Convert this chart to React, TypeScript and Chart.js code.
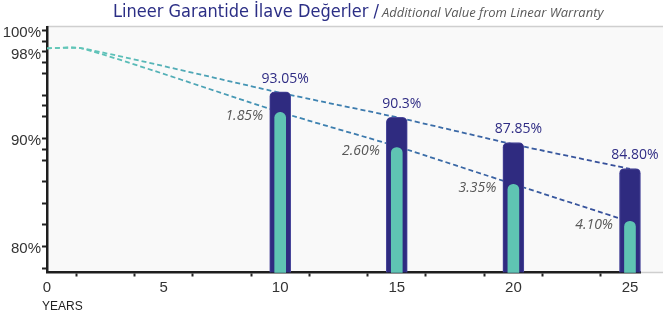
import React, { useEffect, useRef } from "react";
import { Chart, registerables } from "chart.js";

Chart.register(...registerables);

// ---- data ----
const BAR_YEARS = [10, 15, 20, 25];
const LINEAR_WARRANTY = [94.31, 91.94, 89.62, 87.22];
const STANDARD_WARRANTY = [92.4, 89.16, 85.76, 82.34];
const LINEAR_LABELS = ["93.05%", "90.3%", "87.85%", "84.80%"];
const GAIN_LABELS = ["1.85%", "2.60%", "3.35%", "4.10%"];
const LINE_YEARS = [0, 1.5, 10, 15, 20, 25];
const UPPER_LINE = [98.33, 98.33, 94.22, 91.95, 89.45, 87.18];
const LOWER_LINE = [98.33, 98.33, 92.43, 89.26, 85.77, 82.3];
const X_TICKS = [0, 2.5, 5, 7.5, 10, 12.5, 15, 17.5, 20, 22.5, 25];
const X_LABELED = [0, 5, 10, 15, 20, 25];
const Y_TICKS = [78, 80, 82, 84, 86, 88, 89, 90, 92, 93, 94, 96, 97, 98, 99, 100];
const Y_LABELED = [80, 90, 98, 100];
const TITLE_TR = "Lineer Garantide İlave Değerler /";
const TITLE_EN = "Additional Value from Linear Warranty";
const X_TITLE = "YEARS";

const Y_MIN = 77.6;
const Y_MAX = 100.3;
const X_MIN = 0;
const X_MAX = 25.43;

const NAVY = "#2f2b80";
const TEAL = "#5fc4b3";

function lineGradient(context: any) {
  const chart = context.chart;
  const area = chart.chartArea;
  if (!area) return "#4a8fb5";
  const g = chart.ctx.createLinearGradient(area.left, 0, area.right, 0);
  g.addColorStop(0, "#64c8b8");
  g.addColorStop(0.12, "#5cc0b8");
  g.addColorStop(0.4, "#3e88b3");
  g.addColorStop(0.75, "#3a62a3");
  g.addColorStop(1, "#354a98");
  return g;
}

const backgroundPlugin = {
  id: "panelBg",
  beforeDraw(chart: any) {
    const { ctx, chartArea, width, height } = chart;
    ctx.save();
    ctx.fillStyle = "#ffffff";
    ctx.fillRect(0, 0, width, height);
    ctx.fillStyle = "#f9f9f9";
    ctx.fillRect(chartArea.left, chartArea.top, width - chartArea.left, chartArea.bottom - chartArea.top);
    ctx.strokeStyle = "#cfcfcf";
    ctx.lineWidth = 1.5;
    ctx.beginPath();
    ctx.moveTo(chartArea.left, chartArea.top - 0.5);
    ctx.lineTo(width, chartArea.top - 0.5);
    ctx.stroke();
    ctx.beginPath();
    ctx.moveTo(chartArea.right, chartArea.bottom);
    ctx.lineTo(width, chartArea.bottom);
    ctx.stroke();
    ctx.restore();
  },
};

const textPlugin = {
  id: "texts",
  afterDatasetsDraw(chart: any) {
    const { ctx, scales } = chart;
    const xs = scales.x;
    const ys = scales.y;
    ctx.save();
    ctx.textBaseline = "middle";
    ctx.font = "14px 'Open Sans', sans-serif";
    ctx.fillStyle = "#2f2c84";
    ctx.textAlign = "center";
    BAR_YEARS.forEach((yr, i) => {
      const w = ctx.measureText(LINEAR_LABELS[i]).width;
      let cx = xs.getPixelForValue(yr) + 5;
      if (cx + w / 2 > chart.width - 4) cx = chart.width - 4 - w / 2;
      ctx.fillText(LINEAR_LABELS[i], cx, ys.getPixelForValue(LINEAR_WARRANTY[i]) - 13);
    });
    ctx.font = "italic 14px 'Open Sans', sans-serif";
    ctx.fillStyle = "#575757";
    ctx.textAlign = "right";
    BAR_YEARS.forEach((yr, i) => {
      ctx.fillText(GAIN_LABELS[i], xs.getPixelForValue(yr) - 17, ys.getPixelForValue(STANDARD_WARRANTY[i]) + 4);
    });
    ctx.restore();
  },
  afterDraw(chart: any) {
    const { ctx } = chart;
    ctx.save();
    ctx.textBaseline = "alphabetic";
    ctx.textAlign = "left";
    ctx.font = "18px 'Liberation Sans Narrow', 'DejaVu Sans Condensed', sans-serif";
    ctx.fillStyle = "#2b2e85";
    const x0 = 113;
    ctx.fillText(TITLE_TR, x0, 17);
    const w = ctx.measureText(TITLE_TR).width;
    ctx.font = "italic 13px 'Open Sans', sans-serif";
    ctx.fillStyle = "#595959";
    ctx.fillText(TITLE_EN, x0 + w + 3, 17);
    ctx.font = "12px 'Liberation Sans', Arial, sans-serif";
    ctx.fillStyle = "#222222";
    ctx.textBaseline = "middle";
    ctx.fillText(X_TITLE, 42, 307);
    ctx.restore();
  },
};

export default function App() {
  const ref = useRef<HTMLCanvasElement | null>(null);

  useEffect(() => {
    if (!ref.current) return;
    Chart.defaults.font.family = "'Liberation Sans', Arial, sans-serif";
    const chart = new Chart(ref.current, {
      type: "bar",
      data: {
        datasets: [
          {
            type: "bar",
            label: "standard",
            data: BAR_YEARS.map((x, i) => ({ x, y: STANDARD_WARRANTY[i] })),
            backgroundColor: TEAL,
            barThickness: 11,
            borderRadius: 6,
            base: Y_MIN,
            grouped: false,
            order: 0,
            clip: false,
          } as any,
          {
            type: "bar",
            label: "linear",
            data: BAR_YEARS.map((x, i) => ({ x, y: LINEAR_WARRANTY[i] })),
            backgroundColor: NAVY,
            borderColor: "#4b489b",
            borderWidth: 1,
            barThickness: 21,
            borderRadius: 5,
            base: Y_MIN,
            grouped: false,
            order: 1,
            clip: false,
          } as any,
          {
            type: "line",
            label: "upper",
            data: LINE_YEARS.map((x, i) => ({ x, y: UPPER_LINE[i] })),
            borderColor: lineGradient,
            borderWidth: 1.8,
            borderDash: [5, 3],
            pointRadius: 0,
            tension: 0.2,
            fill: false,
            order: 2,
          } as any,
          {
            type: "line",
            label: "lower",
            data: LINE_YEARS.map((x, i) => ({ x, y: LOWER_LINE[i] })),
            borderColor: lineGradient,
            borderWidth: 1.8,
            borderDash: [5, 3],
            pointRadius: 0,
            tension: 0.2,
            fill: false,
            order: 2,
          } as any,
        ],
      },
      options: {
        responsive: false,
        devicePixelRatio: 1,
        animation: false,
        layout: { padding: { top: 27, right: 23, left: 0, bottom: 0 } },
        plugins: { legend: { display: false }, tooltip: { enabled: false }, title: { display: false } },
        scales: {
          x: {
            type: "linear",
            min: X_MIN,
            max: X_MAX,
            offset: false,
            afterFit(scale: any) {
              scale.height = 44.5;
            },
            afterBuildTicks(scale: any) {
              scale.ticks = X_TICKS.map((v) => ({ value: v }));
            },
            grid: {
              drawOnChartArea: false,
              drawTicks: true,
              tickLength: 4,
              tickWidth: 2,
              tickColor: "#222",
              color: "#222",
            },
            border: { display: true, color: "#1e1e1e", width: 2.5 },
            ticks: {
              autoSkip: false,
              maxRotation: 0,
              padding: 2,
              color: "#333",
              font: { size: 15 },
              callback: (v: any) => (X_LABELED.includes(Number(v)) ? String(v) : ""),
            },
          },
          y: {
            type: "linear",
            min: Y_MIN,
            max: Y_MAX,
            afterFit(scale: any) {
              scale.width = 47;
            },
            afterBuildTicks(scale: any) {
              scale.ticks = Y_TICKS.map((v) => ({ value: v }));
            },
            grid: {
              drawOnChartArea: false,
              drawTicks: true,
              tickLength: 5,
              tickWidth: 2,
              tickColor: "#222",
              color: "#222",
            },
            border: { display: true, color: "#1e1e1e", width: 2.5 },
            ticks: {
              autoSkip: false,
              padding: 1,
              labelOffset: 2.5,
              color: "#333",
              font: { size: 15 },
              callback: (v: any) => (Y_LABELED.includes(Number(v)) ? v + "%" : ""),
            },
          },
        },
      },
      plugins: [backgroundPlugin, textPlugin],
    } as any);
    return () => chart.destroy();
  }, []);

  return (
    <div style={{ position: "absolute", left: 0, top: 0, width: 663, height: 317, background: "#fff" }}>
      <canvas ref={ref} width={663} height={317} style={{ display: "block" }} />
    </div>
  );
}
